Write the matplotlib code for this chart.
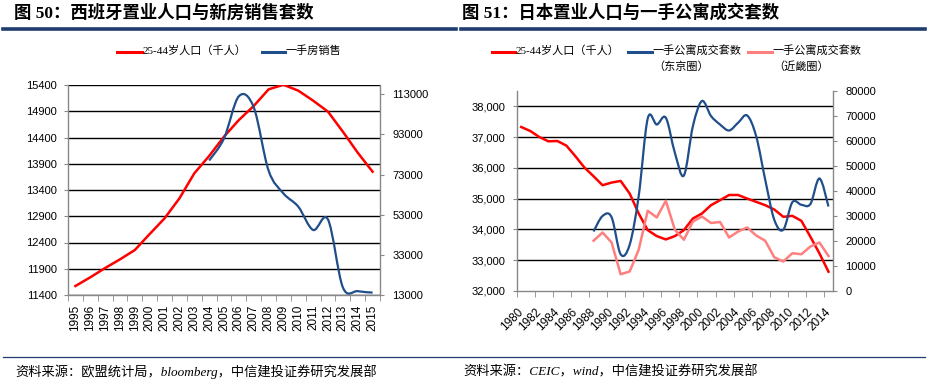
import matplotlib
matplotlib.use('agg')
import matplotlib.pyplot as plt
import numpy as np
from matplotlib.path import Path
from matplotlib.patches import PathPatch
from matplotlib.lines import Line2D
from matplotlib.ticker import FuncFormatter, FixedLocator

plt.rcParams['font.family'] = ['Liberation Sans', 'Noto Sans CJK SC']

# 西班牙
es_years = [str(y) for y in range(1995, 2016)]
es_pop = [11571, 11737, 11914, 12079, 12257, 12562, 12860, 13241, 13717, 14048,
          14416, 14733, 15000, 15317, 15405, 15292, 15102, 14892, 14511, 14111, 13749]
es_sales_years = [str(y) for y in range(2004, 2016)]
es_sales = [80000, 91000, 112000, 106500, 75000, 63600, 57000, 45400, 50600, 16800, 14900, 14200]

# 日本
jp_years = [str(y) for y in range(1980, 2015)]
jp_pop = [37330, 37200, 37005, 36865, 36875, 36724, 36378, 36011, 35730, 35438,
          35524, 35578, 35168, 34519, 33978, 33784, 33676, 33784, 33978, 34357,
          34519, 34789, 34951, 35120, 35120, 35005, 34897, 34789, 34649, 34411,
          34443, 34281, 33762, 33222, 32627]
jp_sales_years = [str(y) for y in range(1988, 2015)]
tokyo = [23800, 30000, 29500, 14700, 18500, 38000, 69000, 66600, 69300, 55300,
         46200, 66000, 76000, 70000, 66600, 64200, 67300, 70200, 61900, 44500,
         28500, 24500, 35500, 34500, 34800, 45000, 33800]
kinki = [20100, 23400, 19400, 6700, 7800, 16500, 32100, 29400, 36100, 24500,
         20500, 27800, 29800, 27200, 27600, 21400, 23800, 25400, 22200, 20100,
         13500, 11800, 15100, 14700, 17800, 19400, 14000]

RED = '#FF0000'
BLUE = '#1F4E8A'
PINK = '#FF7F7F'
NAVY = '#1F3B70'
GREY = '#888888'
W, H = 928, 383


def fx(x):
    return x / W


def fy(y):
    return 1 - y / H


def smooth_path(xs, ys):
    pts = np.column_stack([xs, ys]).astype(float)
    n = len(pts)
    verts = [pts[0]]
    codes = [Path.MOVETO]
    for i in range(n - 1):
        p0 = pts[i - 1] if i > 0 else pts[i]
        p1 = pts[i]
        p2 = pts[i + 1]
        p3 = pts[i + 2] if i + 2 < n else pts[i + 1]
        verts += [p1 + (p2 - p0) / 6, p2 - (p3 - p1) / 6, p2]
        codes += [Path.CURVE4] * 3
    return Path(verts, codes)


def style_axes(ax, ax2):
    for a in (ax, ax2):
        a.spines['top'].set_visible(False)
        for s in ('left', 'right', 'bottom'):
            a.spines[s].set_color(GREY)
            a.spines[s].set_linewidth(1)
    ax.spines['right'].set_visible(False)
    ax2.spines['left'].set_visible(False)
    ax2.spines['bottom'].set_visible(False)
    ax.tick_params(axis='y', direction='out', length=3, color=GREY, labelsize=8, pad=5)
    ax2.tick_params(axis='y', direction='out', length=3, color=GREY, labelsize=8, pad=6)
    ax.tick_params(axis='x', which='major', length=0)
    ax.tick_params(axis='x', which='minor', direction='out', length=4, color=GREY)
    ax.yaxis.grid(True, color='black', linewidth=1)
    ax.set_axisbelow(True)


fig = plt.figure(figsize=(W / 100, H / 100), dpi=100)

# ---------- 图 50 ----------
ax = fig.add_axes([fx(68), fy(295), fx(380) - fx(68), fy(85) - fy(295)])
ax2 = ax.twinx()
xe = np.arange(len(es_years))
ax.plot(xe, es_pop, color=RED, lw=1.8, zorder=3)
xs = np.array([es_years.index(y) for y in es_sales_years])
ax2.add_patch(PathPatch(smooth_path(xs, es_sales), fill=False, edgecolor=BLUE, lw=1.6))
ax.set_xlim(-0.5, len(es_years) - 0.5)
ax.set_ylim(11400, 15400)
ax.set_yticks(np.arange(11400, 15401, 500))
ax2.set_ylim(13000, 117600)
ax2.set_yticks(np.arange(13000, 113001, 20000))
ax.set_xticks(xe)
ax.set_xticklabels(es_years, rotation=90, fontsize=8.5)
ax.xaxis.set_minor_locator(FixedLocator(np.arange(-0.5, len(es_years), 1)))
style_axes(ax, ax2)
ax.tick_params(axis='x', which='major', pad=7)

# ---------- 图 51 ----------
bx = fig.add_axes([fx(516.7), fy(291), fx(833) - fx(516.7), fy(91) - fy(291)])
bx2 = bx.twinx()
xj = np.arange(len(jp_years))
bx.plot(xj, jp_pop, color=RED, lw=1.8, zorder=3)
xt = np.array([jp_years.index(y) for y in jp_sales_years])
bx2.plot(xt, kinki, color=PINK, lw=1.8)
bx2.add_patch(PathPatch(smooth_path(xt, tokyo), fill=False, edgecolor=BLUE, lw=1.6))
bx.set_xlim(-0.5, len(jp_years) - 0.5)
bx.set_ylim(32000, 38500)
bx.set_yticks(np.arange(32000, 38001, 1000))
bx.yaxis.set_major_formatter(FuncFormatter(lambda v, p: f'{int(v):,}'))
bx2.set_ylim(0, 80000)
bx2.set_yticks(np.arange(0, 80001, 10000))
bx.set_xticks(xj[::2])
bx.set_xticklabels(jp_years[::2], rotation=45, ha='right', va='center',
                   rotation_mode='anchor', fontsize=8.5)
bx.xaxis.set_minor_locator(FixedLocator(np.arange(-0.5, len(jp_years) - 1, 2)))
style_axes(bx, bx2)
bx.tick_params(axis='x', which='major', pad=14)
bx.yaxis.get_gridlines()[0].set_visible(False)

# ---------- 标题、图例、来源 ----------
title_font = ['Liberation Serif', 'Noto Sans CJK SC']
fig.text(fx(14), fy(13), '图 50：西班牙置业人口与新房销售套数', fontsize=12.5,
         fontweight='bold', family=title_font, va='center')
fig.text(fx(462), fy(13), '图 51：日本置业人口与一手公寓成交套数', fontsize=12.5,
         fontweight='bold', family=title_font, va='center')
for x0, x1 in ((3, 456), (461, 925)):
    fig.add_artist(Line2D([fx(x0), fx(x1)], [fy(28.5), fy(28.5)], color=NAVY, lw=2.6))
fig.add_artist(Line2D([fx(3), fx(925)], [fy(356.5), fy(356.5)], color=NAVY, lw=0.9))

leg_font = ['Liberation Serif', 'Noto Sans CJK SC']
legend_items = [
    (117, 142, RED, '25-44岁人口（千人）'),
    (262, 285, BLUE, '一手房销售'),
    (492, 515, RED, '25-44岁人口（千人）'),
    (628, 652, BLUE, '一手公寓成交套数\n（东京圈）'),
    (748, 772, PINK, '一手公寓成交套数\n（近畿圈）'),
]
for x0, x1, c, lab in legend_items:
    fig.add_artist(Line2D([fx(x0), fx(x1)], [fy(52), fy(52)], color=c, lw=2.2))
    fig.text(fx(x1 + 1), fy(45), lab, fontsize=8, family=leg_font, va='top',
             linespacing=1.6)

src_font = ['Liberation Serif', 'Noto Sans CJK SC']
fig.text(fx(15), fy(372), '资料来源：欧盟统计局，bloomberg，中信建投证券研究发展部',
         fontsize=9.5, family=src_font, style='italic', va='center')
fig.text(fx(463), fy(372), '资料来源：CEIC，wind，中信建投证券研究发展部',
         fontsize=9.5, family=src_font, style='italic', va='center')

fig.savefig('out.png', dpi=100)
plt.close()
